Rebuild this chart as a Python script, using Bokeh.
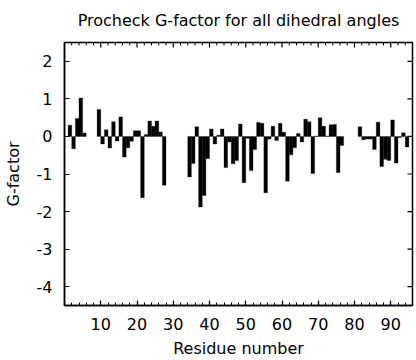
import math
from bokeh.plotting import figure
from bokeh.models import FixedTicker, LinearAxis, ColumnDataSource, Range1d
from bokeh.embed import file_html
from bokeh.resources import INLINE

# ---- data ----
title_text = "Procheck G-factor for all dihedral angles"
x_label = "Residue number"
y_label = "G-factor"

residues = list(range(1, 95))
nan = float("nan")
gfactor = [
    0.30, -0.33, 0.48, 1.02, 0.09, nan, nan, nan, 0.72, -0.20,      # 1-10
    0.18, -0.31, 0.39, -0.12, 0.52, -0.55, -0.30, -0.13, 0.15, 0.15, # 11-20
    -1.63, 0.05, 0.41, 0.27, 0.41, 0.12, -1.30, nan, nan, nan,       # 21-30
    nan, nan, nan, -1.08, -0.72, 0.26, -1.88, -1.57, -0.59, 0.20,    # 31-40
    -0.20, 0.03, 0.20, -0.83, -0.15, -0.73, -0.64, 0.33, -1.23, -0.05, # 41-50
    -0.91, -0.35, 0.37, 0.35, -1.50, -0.07, 0.27, -0.11, 0.35, 0.11, # 51-60
    -1.19, -0.49, -0.30, 0.08, -0.15, 0.46, 0.39, -0.99, 0.01, 0.50, # 61-70
    0.27, 0.01, 0.31, 0.32, -0.96, -0.24, nan, nan, nan, nan,        # 71-80
    0.26, -0.09, -0.07, -0.07, -0.35, 0.38, -0.80, -0.61, -0.64, 0.44, # 81-90
    -0.71, -0.03, 0.10, -0.28,                                       # 91-94
]

x_major = [10, 20, 30, 40, 50, 60, 70, 80, 90]
x_minor = [v for v in range(0, 97, 2) if v % 10 != 0]
y_major = [-4, -3, -2, -1, 0, 1, 2]
y_tick_labels = ["-4", "-3", "-2", "-1", "0", "1", "2"]

X_MIN, X_MAX = 0, 96
Y_MIN, Y_MAX = -4.5, 2.5

# ---- build ----
xs = [r + 0.5 for r, g in zip(residues, gfactor) if not math.isnan(g)]
ys = [g for g in gfactor if not math.isnan(g)]
src = ColumnDataSource(data=dict(x=xs, top=ys))

FONT = "DejaVu Sans"
FS = "16px"

p = figure(width=416, height=360, output_backend="svg", toolbar_location=None,
           x_range=Range1d(X_MIN, X_MAX), y_range=Range1d(Y_MIN, Y_MAX),
           x_axis_location=None, y_axis_location=None,
           min_border_left=62, min_border_right=4, min_border_top=42,
           min_border_bottom=0, title=title_text)

p.title.text_font = FONT
p.title.text_font_size = FS
p.title.text_font_style = "normal"
p.title.text_color = "black"
p.title.align = "center"
p.title.vertical_align = "top"
p.title.standoff = 21

p.xgrid.visible = False
p.ygrid.visible = False
p.outline_line_color = "black"
p.outline_line_width = 1.5
p.background_fill_color = "white"
p.border_fill_color = "white"

p.vbar(x="x", top="top", bottom=0, width=1, source=src,
       fill_color="black", line_color="black", line_width=0.3)

# mirrored ticks on the top and right edges (inward)
p.ray(x=x_major, y=[Y_MAX] * len(x_major), length=5, length_units="screen",
      angle=-math.pi / 2, line_color="black", line_width=1.2)
p.ray(x=x_minor, y=[Y_MAX] * len(x_minor), length=3, length_units="screen",
      angle=-math.pi / 2, line_color="black", line_width=1.0)
p.ray(x=[X_MAX] * len(y_major), y=y_major, length=5, length_units="screen",
      angle=math.pi, line_color="black", line_width=1.2)

xt = FixedTicker(ticks=x_major, minor_ticks=x_minor)
yt = FixedTicker(ticks=y_major, minor_ticks=[])


def style(ax):
    ax.axis_line_color = "black"
    ax.axis_line_width = 1.5
    ax.major_tick_line_color = "black"
    ax.major_tick_line_width = 1.2
    ax.minor_tick_line_color = "black"
    ax.minor_tick_line_width = 1.0
    ax.major_tick_in = 5
    ax.major_tick_out = 0
    ax.minor_tick_in = 3
    ax.minor_tick_out = 0
    ax.major_label_text_font = FONT
    ax.major_label_text_font_size = FS
    ax.major_label_text_color = "black"
    ax.axis_label_text_font = FONT
    ax.axis_label_text_font_size = FS
    ax.axis_label_text_font_style = "normal"
    ax.axis_label_text_color = "black"


bottom = LinearAxis(ticker=xt, axis_label=x_label)
style(bottom)
bottom.major_label_standoff = 12
bottom.axis_label_standoff = 6
p.add_layout(bottom, "below")

left = LinearAxis(ticker=yt, axis_label=y_label,
                  major_label_overrides=dict(zip(y_major, y_tick_labels)))
style(left)
left.major_label_standoff = 12
left.axis_label_standoff = 11
p.add_layout(left, "left")

open("out.html", "w").write(file_html(p, INLINE))
